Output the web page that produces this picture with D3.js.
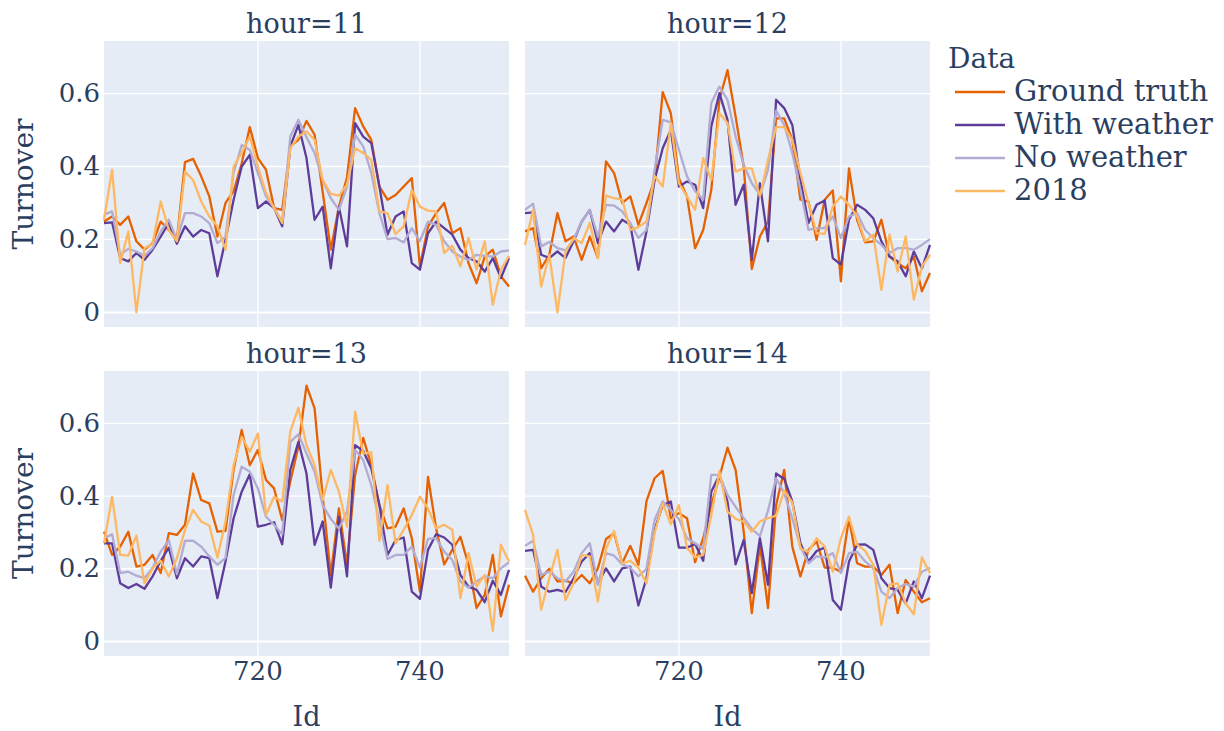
<!DOCTYPE html>
<html>
<head>
<meta charset="utf-8">
<script src="https://cdn.jsdelivr.net/npm/d3@7"></script>
<style>
body { margin: 0; background: #fff; }
text { font-family: "DejaVu Serif", serif; fill: #2a3f5f; }
</style>
</head>
<body>
<script>
var ids = [701, 702, 703, 704, 705, 706, 707, 708, 709, 710, 711, 712, 713, 714, 715, 716, 717,
  718, 719, 720, 721, 722, 723, 724, 725, 726, 727, 728, 729, 730, 731, 732, 733, 734,
  735, 736, 737, 738, 739, 740, 741, 742, 743, 744, 745, 746, 747, 748, 749, 750, 751];
var hours = [11, 12, 13, 14];
var seriesNames = ["Ground truth", "With weather", "No weather", "2018"];
var seriesColors = ["#e66101", "#5e3c99", "#b2abd2", "#fdb863"];
var yTicks = [0, 0.2, 0.4, 0.6];
var xTicks = [720, 740];

// hour = 11
var truth11 = [0.249, 0.263, 0.240, 0.263, 0.195, 0.172, 0.190, 0.249, 0.226, 0.199, 0.412, 0.421, 0.373,
  0.318, 0.208, 0.300, 0.332, 0.409, 0.508, 0.423, 0.391, 0.286, 0.281, 0.455, 0.473, 0.525, 0.487,
  0.330, 0.172, 0.290, 0.370, 0.560, 0.510, 0.473, 0.345, 0.309, 0.322, 0.345, 0.368, 0.126, 0.235,
  0.272, 0.300, 0.217, 0.231, 0.135, 0.080, 0.153, 0.172, 0.099, 0.071];
var weather11 = [0.245, 0.247, 0.149, 0.140, 0.163, 0.144, 0.172, 0.208, 0.245, 0.188, 0.236, 0.208, 0.226,
  0.217, 0.099, 0.199, 0.309, 0.400, 0.432, 0.286, 0.304, 0.286, 0.236, 0.455, 0.514, 0.423, 0.254,
  0.290, 0.121, 0.290, 0.181, 0.519, 0.482, 0.464, 0.345, 0.213, 0.263, 0.277, 0.135, 0.117, 0.217,
  0.249, 0.231, 0.213, 0.172, 0.149, 0.140, 0.112, 0.149, 0.094, 0.149];
var noWeather11 = [0.268, 0.277, 0.158, 0.174, 0.167, 0.155, 0.176, 0.222, 0.254, 0.199, 0.272, 0.272, 0.263,
  0.245, 0.190, 0.208, 0.382, 0.459, 0.446, 0.382, 0.318, 0.286, 0.249, 0.482, 0.528, 0.480, 0.437,
  0.363, 0.313, 0.281, 0.345, 0.487, 0.455, 0.382, 0.272, 0.201, 0.204, 0.192, 0.231, 0.195, 0.249,
  0.240, 0.195, 0.167, 0.153, 0.144, 0.158, 0.155, 0.153, 0.167, 0.170];
var year11 = [0.254, 0.391, 0.135, 0.222, 0.000, 0.176, 0.188, 0.304, 0.226, 0.195, 0.386, 0.363, 0.304,
  0.263, 0.236, 0.172, 0.400, 0.437, 0.482, 0.400, 0.327, 0.286, 0.245, 0.450, 0.482, 0.496, 0.473,
  0.363, 0.325, 0.320, 0.350, 0.450, 0.437, 0.418, 0.277, 0.272, 0.215, 0.236, 0.336, 0.290, 0.279,
  0.277, 0.163, 0.183, 0.126, 0.204, 0.117, 0.195, 0.021, 0.117, 0.155];

// hour = 12
var truth12 = [0.222, 0.231, 0.121, 0.158, 0.272, 0.195, 0.208, 0.144, 0.208, 0.149, 0.414, 0.382, 0.300,
  0.318, 0.240, 0.300, 0.363, 0.604, 0.546, 0.368, 0.318, 0.176, 0.226, 0.336, 0.583, 0.664, 0.537,
  0.400, 0.119, 0.208, 0.249, 0.532, 0.532, 0.473, 0.309, 0.304, 0.199, 0.309, 0.334, 0.085, 0.395,
  0.254, 0.192, 0.195, 0.254, 0.153, 0.135, 0.121, 0.153, 0.058, 0.108];
var weather12 = [0.272, 0.274, 0.158, 0.149, 0.167, 0.149, 0.195, 0.249, 0.281, 0.190, 0.249, 0.222, 0.254,
  0.240, 0.117, 0.222, 0.363, 0.450, 0.500, 0.345, 0.359, 0.350, 0.286, 0.510, 0.601, 0.528, 0.295,
  0.350, 0.144, 0.354, 0.195, 0.583, 0.560, 0.514, 0.363, 0.245, 0.295, 0.307, 0.149, 0.131, 0.254,
  0.295, 0.281, 0.258, 0.195, 0.153, 0.140, 0.099, 0.167, 0.121, 0.185];
var noWeather12 = [0.281, 0.298, 0.181, 0.193, 0.176, 0.170, 0.199, 0.249, 0.281, 0.208, 0.295, 0.293, 0.277,
  0.245, 0.204, 0.226, 0.391, 0.528, 0.521, 0.446, 0.373, 0.332, 0.309, 0.574, 0.619, 0.583, 0.482,
  0.405, 0.354, 0.322, 0.391, 0.553, 0.514, 0.437, 0.336, 0.226, 0.231, 0.231, 0.263, 0.204, 0.263,
  0.272, 0.226, 0.204, 0.185, 0.163, 0.176, 0.176, 0.172, 0.185, 0.201];
var year12 = [0.185, 0.281, 0.071, 0.158, 0.000, 0.167, 0.204, 0.190, 0.245, 0.149, 0.320, 0.313, 0.309,
  0.226, 0.234, 0.249, 0.374, 0.345, 0.519, 0.354, 0.318, 0.281, 0.423, 0.363, 0.546, 0.519, 0.386,
  0.395, 0.395, 0.318, 0.418, 0.508, 0.508, 0.473, 0.382, 0.300, 0.217, 0.215, 0.290, 0.318, 0.295,
  0.263, 0.195, 0.213, 0.062, 0.213, 0.112, 0.208, 0.035, 0.126, 0.158];

// hour = 13
var truth13 = [0.302, 0.238, 0.261, 0.302, 0.206, 0.211, 0.238, 0.188, 0.298, 0.293, 0.321, 0.462, 0.389,
  0.380, 0.302, 0.304, 0.472, 0.582, 0.485, 0.527, 0.444, 0.421, 0.334, 0.440, 0.536, 0.704, 0.641,
  0.398, 0.183, 0.366, 0.211, 0.458, 0.560, 0.485, 0.375, 0.311, 0.316, 0.366, 0.284, 0.137, 0.453,
  0.311, 0.212, 0.252, 0.288, 0.211, 0.092, 0.128, 0.238, 0.069, 0.156];
var weather13 = [0.270, 0.270, 0.160, 0.147, 0.158, 0.145, 0.179, 0.222, 0.258, 0.174, 0.229, 0.206, 0.234,
  0.229, 0.119, 0.220, 0.339, 0.412, 0.460, 0.316, 0.321, 0.328, 0.267, 0.472, 0.549, 0.462, 0.266,
  0.330, 0.148, 0.343, 0.179, 0.540, 0.524, 0.476, 0.375, 0.238, 0.279, 0.286, 0.137, 0.117, 0.252,
  0.295, 0.286, 0.266, 0.183, 0.151, 0.142, 0.108, 0.167, 0.128, 0.197];
var noWeather13 = [0.284, 0.295, 0.188, 0.192, 0.181, 0.174, 0.203, 0.247, 0.279, 0.185, 0.277, 0.277, 0.261,
  0.234, 0.211, 0.229, 0.403, 0.481, 0.467, 0.421, 0.343, 0.321, 0.295, 0.549, 0.570, 0.517, 0.467,
  0.375, 0.337, 0.311, 0.357, 0.527, 0.499, 0.430, 0.330, 0.227, 0.238, 0.238, 0.261, 0.203, 0.282,
  0.284, 0.247, 0.224, 0.165, 0.148, 0.165, 0.179, 0.174, 0.201, 0.218];
var year13 = [0.270, 0.398, 0.238, 0.236, 0.291, 0.160, 0.201, 0.222, 0.179, 0.229, 0.307, 0.362, 0.330,
  0.319, 0.231, 0.330, 0.485, 0.563, 0.522, 0.572, 0.348, 0.398, 0.385, 0.577, 0.643, 0.540, 0.485,
  0.389, 0.472, 0.412, 0.316, 0.632, 0.517, 0.520, 0.277, 0.430, 0.270, 0.307, 0.348, 0.398, 0.366,
  0.311, 0.321, 0.307, 0.119, 0.243, 0.151, 0.183, 0.029, 0.266, 0.220];

// hour = 14
var truth14 = [0.181, 0.137, 0.174, 0.200, 0.165, 0.167, 0.160, 0.183, 0.160, 0.201, 0.282, 0.298, 0.215,
  0.263, 0.211, 0.386, 0.449, 0.469, 0.339, 0.353, 0.339, 0.218, 0.284, 0.375, 0.453, 0.533, 0.472,
  0.302, 0.078, 0.266, 0.092, 0.375, 0.472, 0.261, 0.179, 0.252, 0.275, 0.203, 0.203, 0.192, 0.339,
  0.215, 0.206, 0.206, 0.183, 0.211, 0.078, 0.169, 0.137, 0.108, 0.119];
var weather14 = [0.249, 0.252, 0.151, 0.137, 0.142, 0.136, 0.174, 0.220, 0.243, 0.160, 0.201, 0.165, 0.201,
  0.206, 0.099, 0.174, 0.307, 0.375, 0.385, 0.258, 0.258, 0.268, 0.222, 0.412, 0.458, 0.385, 0.212,
  0.279, 0.133, 0.284, 0.156, 0.462, 0.447, 0.385, 0.270, 0.220, 0.249, 0.258, 0.114, 0.087, 0.220,
  0.266, 0.267, 0.252, 0.174, 0.147, 0.142, 0.105, 0.165, 0.119, 0.181];
var noWeather14 = [0.263, 0.277, 0.183, 0.192, 0.174, 0.165, 0.192, 0.243, 0.270, 0.156, 0.243, 0.236, 0.212,
  0.203, 0.179, 0.200, 0.334, 0.385, 0.362, 0.337, 0.284, 0.270, 0.255, 0.458, 0.458, 0.403, 0.370,
  0.340, 0.310, 0.290, 0.360, 0.449, 0.408, 0.339, 0.261, 0.215, 0.234, 0.231, 0.243, 0.188, 0.243,
  0.247, 0.220, 0.201, 0.137, 0.119, 0.147, 0.158, 0.151, 0.192, 0.203];
var year14 = [0.362, 0.293, 0.087, 0.174, 0.252, 0.114, 0.160, 0.238, 0.234, 0.110, 0.255, 0.304, 0.215,
  0.222, 0.203, 0.160, 0.298, 0.380, 0.322, 0.375, 0.258, 0.231, 0.238, 0.348, 0.469, 0.357, 0.337,
  0.330, 0.302, 0.330, 0.339, 0.346, 0.414, 0.383, 0.255, 0.247, 0.284, 0.261, 0.192, 0.284, 0.343,
  0.266, 0.249, 0.211, 0.046, 0.156, 0.160, 0.105, 0.075, 0.231, 0.188];

var hourSeries = {
  11: [truth11, weather11, noWeather11, year11],
  12: [truth12, weather12, noWeather12, year12],
  13: [truth13, weather13, noWeather13, year13],
  14: [truth14, weather14, noWeather14, year14]
};

var width = 1224, height = 731;
var panelW = 405;
var colLeft = [104, 525];
var rowTop = [41, 371];
var rowH = [286, 285];

var svg = d3.select("body").append("svg")
  .attr("width", width)
  .attr("height", height);

var x = d3.scaleLinear().domain([701, 751]).range([0, panelW]);

hours.forEach(function(h, i) {
  var col = i % 2, row = Math.floor(i / 2);
  var y = d3.scaleLinear().domain([-0.04, 0.744]).range([rowH[row], 0]);
  var g = svg.append("g")
    .attr("transform", "translate(" + colLeft[col] + "," + rowTop[row] + ")");

  g.append("rect")
    .attr("width", panelW)
    .attr("height", rowH[row])
    .attr("fill", "#e5ecf6");

  // grid
  g.selectAll(".gx").data(xTicks).enter().append("line")
    .attr("x1", d => x(d)).attr("x2", d => x(d))
    .attr("y1", 0).attr("y2", rowH[row])
    .attr("stroke", "#fff").attr("stroke-width", 1.3);
  g.selectAll(".gy").data(yTicks).enter().append("line")
    .attr("x1", 0).attr("x2", panelW)
    .attr("y1", d => y(d)).attr("y2", d => y(d))
    .attr("stroke", "#fff").attr("stroke-width", d => d == 0 ? 2 : 1.3);

  var line = d3.line()
    .x((d, j) => x(ids[j]))
    .y(d => y(d));

  hourSeries[h].forEach(function(values, s) {
    g.append("path")
      .datum(values)
      .attr("d", line)
      .attr("fill", "none")
      .attr("stroke", seriesColors[s])
      .attr("stroke-width", 2.3)
      .attr("stroke-linejoin", "round");
  });

  // facet title
  g.append("text")
    .attr("x", panelW / 2)
    .attr("y", -8)
    .attr("text-anchor", "middle")
    .style("font-size", "27px")
    .text("hour=" + h);

  if (col == 0) {
    g.selectAll(".ty").data(yTicks).enter().append("text")
      .attr("x", -4)
      .attr("y", d => y(d))
      .attr("dy", "0.33em")
      .attr("text-anchor", "end")
      .style("font-size", "26px")
      .text(d => d3.format("~g")(d));
    g.append("text")
      .attr("transform", "translate(" + (-71) + "," + rowH[row] / 2 + ") rotate(-90)")
      .attr("text-anchor", "middle")
      .style("font-size", "28px")
      .text("Turnover");
  }
  if (row == 1) {
    g.selectAll(".tx").data(xTicks).enter().append("text")
      .attr("x", d => x(d))
      .attr("y", rowH[row] + 24)
      .attr("text-anchor", "middle")
      .style("font-size", "26px")
      .text(d => d);
    g.append("text")
      .attr("x", panelW / 2)
      .attr("y", rowH[row] + 70)
      .attr("text-anchor", "middle")
      .style("font-size", "27px")
      .text("Id");
  }
});

// legend
var legend = svg.append("g").attr("transform", "translate(948,0)");
legend.append("text")
  .attr("x", 0).attr("y", 68)
  .style("font-size", "28px")
  .text("Data");
var item = legend.selectAll(".item").data(seriesNames).enter().append("g")
  .attr("transform", (d, i) => "translate(0," + (92 + i * 33) + ")");
item.append("line")
  .attr("x1", 7).attr("x2", 57)
  .attr("stroke", (d, i) => seriesColors[i])
  .attr("stroke-width", 2.3);
item.append("text")
  .attr("x", 66).attr("y", 9)
  .style("font-size", "29px")
  .text(d => d);
</script>
</body>
</html>
